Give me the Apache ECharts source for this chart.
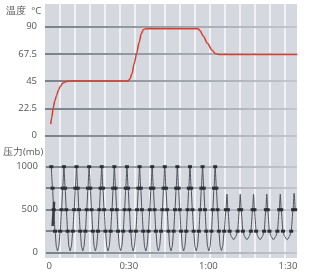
<!DOCTYPE html>
<html><head><meta charset="utf-8">
<script src="https://cdn.jsdelivr.net/npm/echarts@6/dist/echarts.min.js"></script>
<style>html,body{margin:0;padding:0;background:#fff}#c{width:320px;height:276px}</style>
</head><body><div id="c"></div>
<script>
// time in minutes
const timeTicks = [0, 30, 60, 90];
const timeLabels = ['0', '0:30', '1:00', '1:30'];
const tempTicksLabel = '温度  °C';
const pressureLabel = '压力(mb)';

const temperature = [
  [0.9,9.5],[1.3,15],[1.8,22.5],[2.4,28.5],[3.1,33],[3.8,37.5],[4.6,41],[5.5,43.5],[6.8,44.7],[8.5,45],
  [29.8,45],[30.6,46.5],[31.4,51],[32.3,60],[33.2,68],[34.1,77],[34.9,84],[35.7,87.5],[36.8,88.2],
  [56.2,88.2],[57,86.5],[58.2,82],[59.8,76],[61.5,70.5],[62.7,67.8],[64,67],[93.5,67]
];

const pressure = [
  [0.8,1000],[1.25,750],[1.7,500],[2.2,250],[2.7,70],[3.15,20],[3.6,70],[4.15,250],[4.65,500],[5.1,750],
  [5.55,1000],[6.0,750],[6.45,500],[6.95,250],[7.45,70],[7.9,20],[8.35,70],[8.9,250],[9.4,500],[9.85,750],
  [10.3,1000],[10.75,750],[11.2,500],[11.7,250],[12.2,70],[12.65,20],[13.1,70],[13.65,250],[14.15,500],[14.6,750],
  [15.05,1000],[15.5,750],[15.95,500],[16.45,250],[16.95,70],[17.4,20],[17.85,70],[18.4,250],[18.9,500],[19.35,750],
  [19.8,1000],[20.25,750],[20.7,500],[21.2,250],[21.7,70],[22.15,20],[22.6,70],[23.15,250],[23.65,500],[24.1,750],
  [24.55,1000],[25.0,750],[25.45,500],[25.95,250],[26.45,70],[26.9,20],[27.35,70],[27.9,250],[28.4,500],[28.85,750],
  [29.3,1000],[29.75,750],[30.2,500],[30.7,250],[31.2,70],[31.65,20],[32.1,70],[32.65,250],[33.15,500],[33.6,750],
  [34.05,1000],[34.5,750],[34.95,500],[35.45,250],[35.95,70],[36.4,20],[36.85,70],[37.4,250],[37.9,500],[38.35,750],
  [38.8,1000],[39.25,750],[39.7,500],[40.2,250],[40.7,70],[41.15,20],[41.6,70],[42.15,250],[42.65,500],[43.1,750],
  [43.55,1000],[44.0,750],[44.45,500],[44.95,250],[45.45,70],[45.9,20],[46.35,70],[46.9,250],[47.4,500],[47.85,750],
  [48.3,1000],[48.75,750],[49.2,500],[49.7,250],[50.2,70],[50.65,20],[51.1,70],[51.65,250],[52.15,500],[52.6,750],
  [53.05,1000],[53.5,750],[53.95,500],[54.45,250],[54.95,70],[55.4,20],[55.85,70],[56.4,250],[56.9,500],[57.35,750],
  [57.8,1000],[58.25,750],[58.7,500],[59.2,250],[59.7,70],[60.15,20],[60.6,70],[61.15,250],[61.65,500],[62.1,750],
  [62.55,1000],[63.0,750],[63.45,500],[63.95,250],[64.45,70],[64.9,25],[65.4,80],[65.95,250],[66.6,500],
  [67.0,680],[67.35,500],[68.0,250],[68.6,190],[69.5,150],[70.4,190],[71.0,250],[71.65,500],
  [72.0,680],[72.35,500],[73.0,250],[73.6,190],[74.5,150],[75.4,190],[76.0,250],[76.65,500],
  [77.0,680],[77.35,500],[78.0,250],[78.6,190],[79.5,150],[80.4,190],[81.0,250],[81.65,500],
  [82.0,680],[82.35,500],[83.0,250],[83.6,190],[84.5,150],[85.4,190],[86.0,250],[86.7,500],
  [87.1,680],[87.45,500],[88.1,250],[88.7,190],[89.7,150],[90.6,190],[91.2,250],[91.9,500],
  [92.3,690],[92.7,500]
];
const pressureStart = [[1.3,310],[1.85,593]];
const markLevels = [250, 500, 750, 1000];

const chart = echarts.init(document.getElementById('c'), null, {renderer:'canvas'});
const gridLineColor = new echarts.graphic.LinearGradient(45, 0, 297, 0, [
  {offset:0, color:'#7a7f89'}, {offset:1, color:'#c3c6cd'}], true);
const labelStyle = {color:'#555', fontSize:9.5, fontFamily:'Open Sans, Noto Sans, sans-serif'};
const xMin = -1.24, xMax = 93.39;

chart.setOption({
  animation:false,
  grid:[
    {left:45, right:23, top:4, bottom:18, show:true, backgroundColor:'#d5d8df', borderWidth:0, z:-1},
    {left:45, right:23, top:26.5, height:109.2},
    {left:45, right:23, top:166.7, height:86}
  ],
  xAxis:[
    {gridIndex:0, type:'value', min:0, max:252, interval:15, z:0,
     axisLine:{show:false}, axisTick:{show:false}, axisLabel:{show:false},
     splitLine:{show:true, showMinLine:false, showMaxLine:false, lineStyle:{color:'rgba(255,255,255,0.9)', width:1.5}}},
    {gridIndex:1, type:'value', min:xMin, max:xMax, show:false},
    {gridIndex:2, type:'value', min:xMin, max:xMax,
     axisLine:{show:false}, axisTick:{show:false}, splitLine:{show:false},
     axisLabel:Object.assign({customValues:timeTicks, margin:9, showMinLabel:true, showMaxLabel:true,
       formatter:function(v){ const i = timeTicks.indexOf(v); return i>=0 ? timeLabels[i] : ''; }}, labelStyle)}
  ],
  yAxis:[
    {gridIndex:0, type:'value', min:0, max:1, show:false},
    {gridIndex:1, type:'value', min:0, max:90, interval:22.5, z:2,
     name:tempTicksLabel, nameLocation:'end', nameGap:10,
     nameTextStyle:Object.assign({align:'right', padding:[0,7,0,0]}, labelStyle),
     axisLine:{show:false}, axisTick:{show:false},
     axisLabel:Object.assign({margin:8}, labelStyle),
     splitLine:{show:true, lineStyle:{color:gridLineColor, width:2}}},
    {gridIndex:2, type:'value', min:0, max:1000, interval:250, z:2,
     name:pressureLabel, nameLocation:'end', nameGap:9,
     nameTextStyle:Object.assign({align:'right', padding:[0,6,0,0]}, labelStyle),
     axisLine:{show:false}, axisTick:{show:false},
     axisLabel:Object.assign({margin:8, formatter:function(v){ return (v===250||v===750)?'':String(v); }}, labelStyle),
     splitLine:{show:true, lineStyle:{color:gridLineColor, width:2}}}
  ],
  series:[
    {type:'line', xAxisIndex:0, yAxisIndex:0, data:[], silent:true},
    {name:'温度', type:'line', xAxisIndex:1, yAxisIndex:1, data:temperature, showSymbol:false,
     smooth:0.3, smoothMonotone:'x', lineStyle:{color:'#d6402c', width:1.5}, z:5},
    {name:'压力', type:'line', xAxisIndex:2, yAxisIndex:2, data:pressure, showSymbol:true, showAllSymbol:true,
     symbol:'rect', symbolSize:function(v){ return markLevels.indexOf(v[1])>=0 ? [4,3] : 0; },
     itemStyle:{color:'#2b2e35'}, smooth:0.2, smoothMonotone:'x',
     lineStyle:{color:'#4f525a', width:1}, z:5},
    {name:'压力起始', type:'line', xAxisIndex:2, yAxisIndex:2, data:pressureStart, showSymbol:false,
     lineStyle:{color:'#3a3d44', width:2.5}, z:5}
  ]
});
</script></body></html>
